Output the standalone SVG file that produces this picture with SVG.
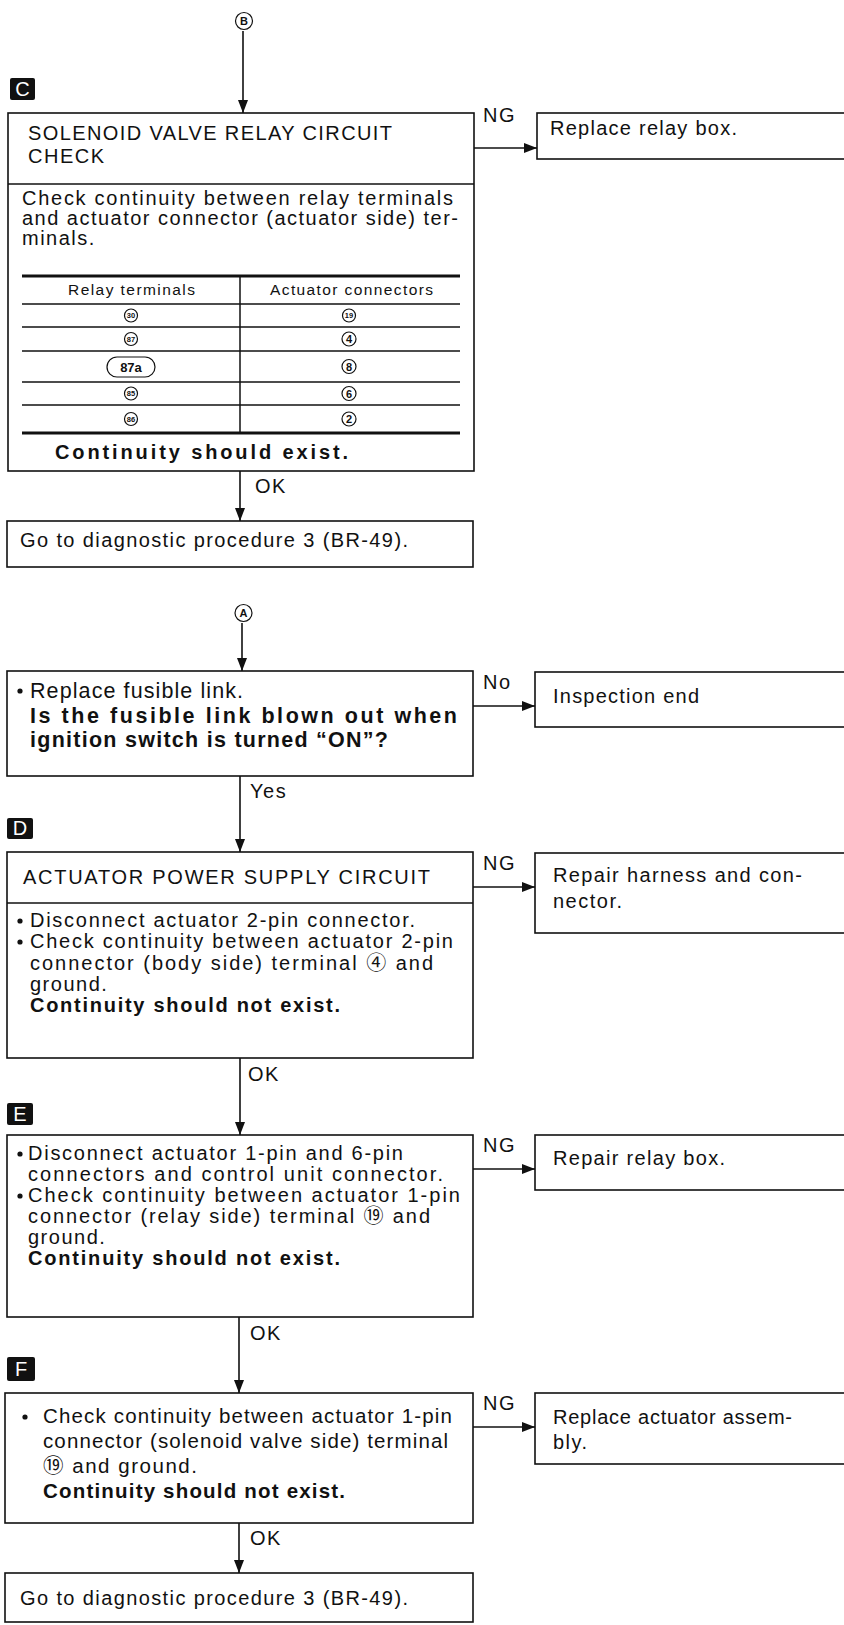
<svg xmlns="http://www.w3.org/2000/svg" width="844" height="1625" viewBox="0 0 844 1625">
<style>
text { font-family: "Liberation Sans", "Noto Sans CJK JP", sans-serif; fill: #111; }
.t { font-size: 20px; }
.t19 { font-size: 20.5px; }
.t20 { font-size: 21.5px; }
.ls { letter-spacing: 1.5px; }
.b { font-weight: bold; }
.box { fill: #fff; stroke: #111; stroke-width: 1.6; }
.ln { stroke: #111; stroke-width: 1.5; fill: none; }
.thick { stroke: #111; stroke-width: 3.2; }
.con { stroke: #111; stroke-width: 1.6; fill: none; marker-end: url(#ah); }
.tag { fill: #111; }
.tagt { fill: #fff; font-size: 20px; text-anchor: middle; }
.th { font-size: 15.5px; }
.cn { font-size: 7.5px; text-anchor: middle; font-weight: bold; }
.cb { font-size: 11px; text-anchor: middle; font-weight: bold; }
.ring { fill: #fff; stroke: #111; stroke-width: 1.2; }
.dot { fill: #111; }
</style>
<defs>
<marker id="ah" viewBox="0 0 13 10" refX="13" refY="5" markerWidth="13" markerHeight="10" markerUnits="userSpaceOnUse" orient="auto">
<path d="M0,0 L13,5 L0,10 z" fill="#111"/>
</marker>
</defs>
<rect x="0" y="0" width="844" height="1625" fill="#fff"/>

<g id="connectors">
<line class="con" x1="243" y1="31" x2="243" y2="113"/>
<line class="con" x1="474" y1="148" x2="537" y2="148"/>
<line class="con" x1="240" y1="471" x2="240" y2="521"/>
<line class="con" x1="242" y1="623" x2="242" y2="671"/>
<line class="con" x1="473" y1="706" x2="535" y2="706"/>
<line class="con" x1="240" y1="776" x2="240" y2="852"/>
<line class="con" x1="473" y1="887" x2="535" y2="887"/>
<line class="con" x1="240" y1="1058" x2="240" y2="1135"/>
<line class="con" x1="473" y1="1169" x2="535" y2="1169"/>
<line class="con" x1="239" y1="1317" x2="239" y2="1393"/>
<line class="con" x1="473" y1="1427" x2="535" y2="1427"/>
<line class="con" x1="239" y1="1523" x2="239" y2="1573"/>
<text class="t ls" x="483" y="122">NG</text>
<text class="t ls" x="255" y="493">OK</text>
<text class="t ls" x="483" y="689">No</text>
<text class="t ls" x="250" y="798">Yes</text>
<text class="t ls" x="483" y="870">NG</text>
<text class="t ls" x="248" y="1081">OK</text>
<text class="t ls" x="483" y="1152">NG</text>
<text class="t ls" x="250" y="1340">OK</text>
<text class="t ls" x="483" y="1410">NG</text>
<text class="t ls" x="250" y="1545">OK</text>
</g>

<g id="connector-B">
<circle class="ring" cx="244" cy="21" r="8.5"/>
<text class="cb" x="244" y="25">B</text>
</g>

<g id="tag-C">
<rect class="tag" x="10" y="78" width="25" height="22" rx="2"/>
<text class="tagt" x="22.5" y="96">C</text>
</g>

<g id="node-C">
<rect class="box" x="8" y="113" width="466" height="358"/>
<line class="ln" x1="8" y1="184" x2="474" y2="184"/>
<text class="t" x="28" y="140" textLength="364" lengthAdjust="spacing">SOLENOID VALVE RELAY CIRCUIT</text>
<text class="t ls" x="28" y="163">CHECK</text>
<text class="t" x="22" y="205" textLength="431" lengthAdjust="spacing">Check continuity between relay terminals</text>
<text class="t" x="22" y="225" textLength="436" lengthAdjust="spacing">and actuator connector (actuator side) ter-</text>
<text class="t ls" x="22" y="245">minals.</text>
<g id="relay-table">
<line class="thick" x1="22" y1="276" x2="460" y2="276"/>
<line class="ln" x1="22" y1="304" x2="460" y2="304"/>
<line class="ln" x1="22" y1="327" x2="460" y2="327"/>
<line class="ln" x1="22" y1="351" x2="460" y2="351"/>
<line class="ln" x1="22" y1="382" x2="460" y2="382"/>
<line class="ln" x1="22" y1="405" x2="460" y2="405"/>
<line class="thick" x1="22" y1="433" x2="460" y2="433"/>
<line class="ln" x1="240" y1="276" x2="240" y2="433"/>
<text class="th" x="68" y="295" textLength="127" lengthAdjust="spacing">Relay terminals</text>
<text class="th" x="270" y="295" textLength="163" lengthAdjust="spacing">Actuator connectors</text>
<circle class="ring" cx="131" cy="315.5" r="6.5"/><text class="cn" x="131" y="318.2">30</text>
<circle class="ring" cx="131" cy="339" r="6.5"/><text class="cn" x="131" y="341.7">87</text>
<rect class="ring" x="107" y="357" width="48" height="20" rx="10" stroke-width="1.5"/><text x="131" y="372" font-size="13" font-weight="bold" text-anchor="middle">87a</text>
<circle class="ring" cx="131" cy="393.5" r="6.5"/><text class="cn" x="131" y="396.2">85</text>
<circle class="ring" cx="131" cy="419" r="6.5"/><text class="cn" x="131" y="421.7">86</text>
<circle class="ring" cx="349" cy="315.5" r="6.5"/><text class="cn" x="349" y="318.2">19</text>
<circle class="ring" cx="349" cy="339" r="7"/><text class="cb" x="349" y="343">4</text>
<circle class="ring" cx="349" cy="366.5" r="7"/><text class="cb" x="349" y="370.5">8</text>
<circle class="ring" cx="349" cy="393.5" r="7"/><text class="cb" x="349" y="397.5">6</text>
<circle class="ring" cx="349" cy="419" r="7"/><text class="cb" x="349" y="423">2</text>
</g>
<text class="t b" x="55" y="459" textLength="293" lengthAdjust="spacing">Continuity should exist.</text>
</g>

<g id="node-replace-relay">
<rect class="box" x="537" y="113" width="312" height="46"/>
<text class="t" x="550" y="135" textLength="187" lengthAdjust="spacing">Replace relay box.</text>
</g>

<g id="node-go1">
<rect class="box" x="7" y="521" width="466" height="46"/>
<text class="t" x="20" y="547" textLength="388" lengthAdjust="spacing">Go to diagnostic procedure 3 (BR-49).</text>
</g>

<g id="connector-A">
<circle class="ring" cx="243.5" cy="613" r="8.5"/>
<text class="cb" x="243.5" y="617">A</text>
</g>

<g id="node-fusible">
<rect class="box" x="7" y="671" width="466" height="105"/>
<circle class="dot" cx="20" cy="691" r="2.6"/>
<text class="t20" x="30" y="698" textLength="213" lengthAdjust="spacing">Replace fusible link.</text>
<text class="t20 b" x="30" y="723" textLength="427" lengthAdjust="spacing">Is the fusible link blown out when</text>
<text class="t20 b" x="30" y="747" textLength="358" lengthAdjust="spacing">ignition switch is turned “ON”?</text>
</g>

<g id="node-inspection-end">
<rect class="box" x="535" y="672" width="314" height="55"/>
<text class="t" x="553" y="703" textLength="146" lengthAdjust="spacing">Inspection end</text>
</g>

<g id="tag-D">
<rect class="tag" x="7" y="818" width="26" height="21" rx="2"/>
<text class="tagt" x="20" y="835">D</text>
</g>

<g id="node-D">
<rect class="box" x="7" y="852" width="466" height="206"/>
<line class="ln" x1="7" y1="903" x2="473" y2="903"/>
<text class="t" x="23" y="884" textLength="407" lengthAdjust="spacing">ACTUATOR POWER SUPPLY CIRCUIT</text>
<circle class="dot" cx="20" cy="921" r="2.6"/>
<text class="t" x="30" y="927" textLength="385" lengthAdjust="spacing">Disconnect actuator 2-pin connector.</text>
<circle class="dot" cx="20" cy="942" r="2.6"/>
<text class="t" x="30" y="948" textLength="423" lengthAdjust="spacing">Check continuity between actuator 2-pin</text>
<text class="t" x="30" y="970" textLength="403" lengthAdjust="spacing">connector (body side) terminal ④  and</text>
<text class="t ls" x="30" y="991">ground.</text>
<text class="t b" x="30" y="1012" textLength="310" lengthAdjust="spacing">Continuity should not exist.</text>
</g>

<g id="node-repair-harness">
<rect class="box" x="535" y="853" width="314" height="80"/>
<text class="t" x="553" y="882" textLength="249" lengthAdjust="spacing">Repair harness and con-</text>
<text class="t ls" x="553" y="908">nector.</text>
</g>

<g id="tag-E">
<rect class="tag" x="7" y="1103" width="26" height="22" rx="2"/>
<text class="tagt" x="20" y="1121">E</text>
</g>

<g id="node-E">
<rect class="box" x="7" y="1135" width="466" height="182"/>
<circle class="dot" cx="20" cy="1154" r="2.6"/>
<text class="t" x="28" y="1160" textLength="375" lengthAdjust="spacing">Disconnect actuator 1-pin and 6-pin</text>
<text class="t" x="28" y="1181" textLength="415" lengthAdjust="spacing">connectors and control unit connector.</text>
<circle class="dot" cx="20" cy="1196" r="2.6"/>
<text class="t" x="28" y="1202" textLength="432" lengthAdjust="spacing">Check continuity between actuator 1-pin</text>
<text class="t" x="28" y="1223" textLength="402" lengthAdjust="spacing">connector (relay side) terminal ⑲ and</text>
<text class="t ls" x="28" y="1244">ground.</text>
<text class="t b" x="28" y="1265" textLength="312" lengthAdjust="spacing">Continuity should not exist.</text>
</g>

<g id="node-repair-relay">
<rect class="box" x="535" y="1135" width="314" height="55"/>
<text class="t" x="553" y="1165" textLength="172" lengthAdjust="spacing">Repair relay box.</text>
</g>

<g id="tag-F">
<rect class="tag" x="7" y="1357" width="28" height="24" rx="2"/>
<text class="tagt" x="21" y="1376">F</text>
</g>

<g id="node-F">
<rect class="box" x="5" y="1393" width="468" height="130"/>
<circle class="dot" cx="25" cy="1417" r="2.6"/>
<text class="t19" x="43" y="1423" textLength="409" lengthAdjust="spacing">Check continuity between actuator 1-pin</text>
<text class="t19" x="43" y="1448" textLength="405" lengthAdjust="spacing">connector (solenoid valve side) terminal</text>
<text class="t19" x="43" y="1473" textLength="154" lengthAdjust="spacing">⑲ and ground.</text>
<text class="t19 b" x="43" y="1498" textLength="302" lengthAdjust="spacing">Continuity should not exist.</text>
</g>

<g id="node-replace-actuator">
<rect class="box" x="535" y="1393" width="314" height="71"/>
<text class="t" x="553" y="1424" textLength="239" lengthAdjust="spacing">Replace actuator assem-</text>
<text class="t ls" x="553" y="1449">bly.</text>
</g>

<g id="node-go2">
<rect class="box" x="5" y="1573" width="468" height="49"/>
<text class="t" x="20" y="1605" textLength="388" lengthAdjust="spacing">Go to diagnostic procedure 3 (BR-49).</text>
</g>
</svg>
